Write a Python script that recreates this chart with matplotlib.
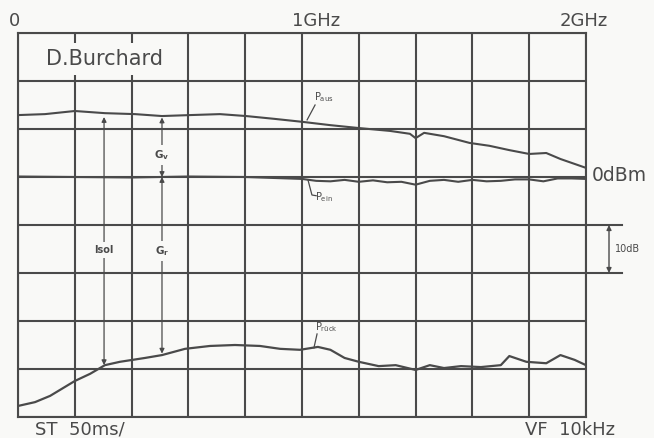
import matplotlib
matplotlib.use('Agg')
import matplotlib.pyplot as plt

# Frequency axis in GHz, level in dB relative to 0 dBm reference line
f_aus = [0.0, 0.095, 0.2, 0.306, 0.412, 0.507, 0.606, 0.711, 0.803, 0.905, 1.0,
         1.1, 1.2, 1.31, 1.38, 1.40, 1.43, 1.50, 1.59, 1.66, 1.73, 1.80, 1.86, 1.91, 2.0]
p_aus = [12.9, 13.1, 13.75, 13.3, 13.1, 12.7, 12.9, 13.1, 12.7, 12.1, 11.5,
         10.8, 10.2, 9.6, 9.0, 8.1, 9.2, 8.5, 7.1, 6.5, 5.6, 4.8, 5.0, 3.75, 1.9]

f_ein = [0.0, 0.2, 0.4, 0.6, 0.8, 1.0, 1.05, 1.1, 1.15, 1.2, 1.25, 1.3, 1.35, 1.4,
         1.45, 1.5, 1.55, 1.6, 1.65, 1.7, 1.75, 1.8, 1.85, 1.9, 1.95, 2.0]
p_ein = [0.1, 0.0, -0.1, 0.1, 0.0, -0.4, -0.8, -0.9, -0.6, -1.0, -0.7, -1.1, -1.0, -1.6,
         -0.8, -0.6, -1.0, -0.6, -0.9, -0.8, -0.5, -0.5, -0.9, -0.3, -0.3, -0.4]

f_rueck = [0.0, 0.06, 0.113, 0.2, 0.254, 0.306, 0.359, 0.447, 0.507, 0.588, 0.676, 0.764,
           0.852, 0.923, 0.993, 1.056, 1.1, 1.15, 1.2, 1.27, 1.33, 1.40, 1.45, 1.50,
           1.56, 1.63, 1.70, 1.73, 1.79, 1.86, 1.91, 1.96, 2.0]
p_rueck = [-47.7, -46.9, -45.6, -42.5, -41.0, -39.2, -38.5, -37.7, -37.1, -35.8, -35.2, -35.0,
           -35.2, -35.8, -36.0, -35.4, -36.0, -37.7, -38.5, -39.4, -39.2, -40.2, -39.2, -39.8,
           -39.4, -39.6, -39.2, -37.3, -38.5, -38.8, -37.1, -38.1, -39.2]

top_labels = ['0', '1GHz', '2GHz']
bottom_labels = ['ST  50ms/', 'VF  10kHz']

ink = '#4a4a4a'
paper = '#f9f9f7'

fig = plt.figure(figsize=(6.54, 4.38), dpi=100, facecolor=paper)
ax = fig.add_axes([18 / 654, 21 / 438, 568 / 654, 384 / 438])
ax.set_facecolor(paper)
ax.set_xlim(0, 2)
ax.set_ylim(-50, 30)
ax.set_xticks([i * 0.2 for i in range(11)])
ax.set_yticks(range(-50, 31, 10))
ax.tick_params(length=0, labelbottom=False, labelleft=False)
ax.grid(True, color=ink, lw=1.5)
ax.set_axisbelow(True)
for s in ax.spines.values():
    s.set_color(ink)
    s.set_linewidth(1.5)

# traces
ax.plot(f_aus, p_aus, color=ink, lw=1.5, zorder=2)
ax.plot(f_ein, p_ein, color=ink, lw=1.5, zorder=2)
ax.plot(f_rueck, p_rueck, color=ink, lw=1.6, zorder=2)

txt = dict(color=ink, family='DejaVu Sans')
ax.text(0.306, 24.6, 'D.Burchard', fontsize=15, ha='center', va='center', zorder=4,
        bbox=dict(boxstyle='square,pad=0.28', fc=paper, ec='none'), **txt)

# frequency labels along the top, settings along the bottom
for x, lab in zip([-0.014, 1.049, 1.993], top_labels):
    ax.text(x, 32.6, lab, fontsize=13, ha='center', va='center', clip_on=False, **txt)
ax.text(0.06, -53.7, bottom_labels[0], fontsize=13, ha='left', va='baseline', clip_on=False, **txt)
ax.text(2.102, -53.7, bottom_labels[1], fontsize=13, ha='right', va='baseline', clip_on=False, **txt)

ax.text(2.021, 0.4, '0dBm', fontsize=13.5, ha='left', va='center', clip_on=False, **txt)

# 10 dB scale marker on the right
for lvl in (-10, -20):
    ax.plot([2.0, 2.127], [lvl, lvl], color=ink, lw=1.5, clip_on=False)
ax.annotate('', xy=(2.081, -10), xytext=(2.081, -20), annotation_clip=False,
            arrowprops=dict(arrowstyle='<|-|>', color=ink, lw=1.0, mutation_scale=7,
                            shrinkA=0, shrinkB=0))
ax.text(2.102, -15, '10dB', fontsize=7, ha='left', va='center', clip_on=False, **txt)

# measurement arrows
arrow = dict(arrowstyle='-|>', color=ink, lw=0.9, mutation_scale=7, shrinkA=0, shrinkB=0)
x_iso, x_g = 0.303, 0.507
ax.annotate('', xy=(x_iso, 12.5), xytext=(x_iso, -20), arrowprops=arrow)
ax.annotate('', xy=(x_iso, -39.2), xytext=(x_iso, -20), arrowprops=arrow)
ax.annotate('', xy=(x_g, 12.4), xytext=(x_g, 6), arrowprops=arrow)
ax.annotate('', xy=(x_g, 0), xytext=(x_g, 6), arrowprops=arrow)
ax.annotate('', xy=(x_g, 0), xytext=(x_g, -10), arrowprops=arrow)
ax.annotate('', xy=(x_g, -36.8), xytext=(x_g, -10), arrowprops=arrow)

lbl_box = dict(boxstyle='square,pad=0.3', fc=paper, ec='none')
ax.text(x_iso, -15.2, 'Isol', fontsize=7, fontweight='bold', ha='center', va='center',
        zorder=4, bbox=lbl_box, **txt)
ax.text(x_g, 4.6, r'G$_\mathregular{v}$', fontsize=7.5, fontweight='bold', ha='center',
        va='center', zorder=4, bbox=lbl_box, **txt)
ax.text(x_g, -15.4, r'G$_\mathregular{r}$', fontsize=7.5, fontweight='bold', ha='center',
        va='center', zorder=4, bbox=lbl_box, **txt)

# trace names with leader lines
ax.plot([1.018, 1.046], [11.9, 15.0], color=ink, lw=0.9)
ax.text(1.043, 15.3, r'P$_\mathregular{aus}$', fontsize=7, ha='left', va='bottom', **txt)
ax.plot([1.021, 1.035, 1.050], [-0.6, -3.75, -3.9], color=ink, lw=0.9)
ax.text(1.045, -4.2, r'P$_\mathregular{ein}$', fontsize=7, ha='left', va='center', **txt)
ax.plot([1.042, 1.053], [-35.6, -32.7], color=ink, lw=0.9)
ax.text(1.045, -32.8, r'P$_\mathregular{rück}$', fontsize=7, ha='left', va='bottom', **txt)

fig.savefig('out.png', dpi=100, facecolor=paper)
